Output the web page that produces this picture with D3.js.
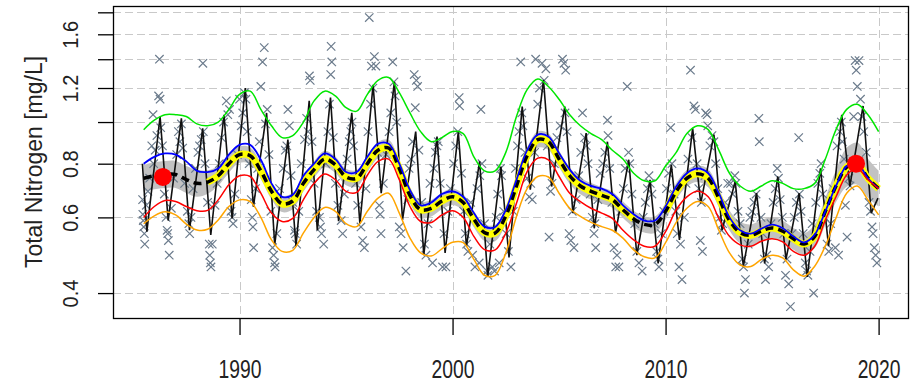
<!DOCTYPE html>
<html>
<head>
<meta charset="utf-8">
<script src="https://cdn.jsdelivr.net/npm/d3@7"></script>
<style>
  html, body { margin: 0; padding: 0; background: #fff; }
  svg { display: block; font-family: "Liberation Sans", Arial, sans-serif; }
</style>
</head>
<body>
<svg id="chart" width="923" height="385"></svg>
<script>
// ---- Axis ticks ----
const xTickYears = [1990, 2000, 2010, 2020];
const yTickValues = [0.4, 0.6, 0.8, 1.0, 1.2, 1.4, 1.6, 1.8];
const yTickLabels = ["0.4", "0.6", "0.8", "", "1.2", "", "1.6", ""];
const yAxisTitle = "Total Nitrogen [mg/L]";

// ---- Smoothed trend curves (half-year steps, mg/L) ----
const trendYears = [1985.5, 1986, 1986.5, 1987, 1987.5, 1988, 1988.5, 1989, 1989.5,
  1990, 1990.5, 1991, 1991.5, 1992, 1992.5, 1993, 1993.5, 1994, 1994.5, 1995, 1995.5,
  1996, 1996.5, 1997, 1997.5, 1998, 1998.5, 1999, 1999.5, 2000, 2000.5, 2001, 2001.5,
  2002, 2002.5, 2003, 2003.5, 2004, 2004.5, 2005, 2005.5, 2006, 2006.5, 2007, 2007.5,
  2008, 2008.5, 2009, 2009.5, 2010, 2010.5, 2011, 2011.5, 2012, 2012.5, 2013, 2013.5,
  2014, 2014.5, 2015, 2015.5, 2016, 2016.5, 2017, 2017.5, 2018, 2018.5, 2019, 2019.5, 2020];

const greenLine = [0.96, 1.01, 1.04, 1.04, 1.03, 0.99, 0.98, 1.00, 1.07,
  1.16, 1.18, 1.07, 0.98, 0.92, 0.93, 1.00, 1.12, 1.18, 1.15, 1.08, 1.06,
  1.16, 1.25, 1.27, 1.17, 1.05, 0.95, 0.90, 0.92, 0.95, 0.94, 0.83, 0.77,
  0.77, 0.85, 1.03, 1.19, 1.26, 1.21, 1.13, 1.04, 0.98, 0.94, 0.91, 0.86,
  0.82, 0.76, 0.73, 0.73, 0.79, 0.85, 0.94, 0.98, 0.96, 0.86, 0.76, 0.71,
  0.69, 0.71, 0.73, 0.72, 0.70, 0.70, 0.72, 0.82, 0.96, 1.07, 1.10, 1.04, 0.95];

const blueLine = [0.80, 0.83, 0.845, 0.84, 0.81, 0.77, 0.765, 0.78, 0.84,
  0.885, 0.885, 0.817, 0.72, 0.67, 0.677, 0.75, 0.80, 0.845, 0.82, 0.765, 0.765,
  0.83, 0.89, 0.89, 0.80, 0.695, 0.64, 0.65, 0.68, 0.69, 0.67, 0.614, 0.571,
  0.57, 0.625, 0.734, 0.86, 0.935, 0.925, 0.846, 0.775, 0.73, 0.71, 0.70, 0.68,
  0.64, 0.61, 0.59, 0.59, 0.636, 0.708, 0.76, 0.78, 0.76, 0.683, 0.60, 0.56,
  0.55, 0.565, 0.577, 0.566, 0.542, 0.525, 0.547, 0.62, 0.71, 0.79, 0.80, 0.74, 0.70];

const trendLine = [0.74, 0.75, 0.755, 0.755, 0.735, 0.72, 0.725, 0.75, 0.80,
  0.84, 0.835, 0.77, 0.69, 0.645, 0.655, 0.72, 0.775, 0.82, 0.795, 0.745, 0.74,
  0.80, 0.86, 0.87, 0.78, 0.675, 0.625, 0.63, 0.655, 0.67, 0.65, 0.595, 0.553,
  0.552, 0.605, 0.71, 0.835, 0.91, 0.90, 0.82, 0.75, 0.71, 0.69, 0.675, 0.66,
  0.625, 0.595, 0.578, 0.577, 0.62, 0.69, 0.74, 0.758, 0.74, 0.665, 0.59, 0.553,
  0.545, 0.558, 0.567, 0.557, 0.535, 0.52, 0.542, 0.62, 0.71, 0.785, 0.80, 0.74, 0.70];

// relative half-width of the shaded confidence band around the trend
const bandSpread = [0.075, 0.075, 0.075, 0.075, 0.075, 0.075, 0.065, 0.055, 0.05,
  0.045, 0.045, 0.045, 0.045, 0.045, 0.045, 0.045, 0.045, 0.045, 0.045, 0.045, 0.045,
  0.045, 0.045, 0.045, 0.045, 0.045, 0.045, 0.045, 0.045, 0.045, 0.045, 0.045, 0.045,
  0.045, 0.045, 0.045, 0.045, 0.045, 0.045, 0.045, 0.045, 0.045, 0.045, 0.045, 0.045,
  0.045, 0.045, 0.045, 0.045, 0.045, 0.045, 0.045, 0.045, 0.05, 0.05, 0.055, 0.06,
  0.06, 0.06, 0.06, 0.06, 0.06, 0.06, 0.065, 0.075, 0.09, 0.11, 0.12, 0.11, 0.10];

const redLine = [0.60, 0.636, 0.657, 0.653, 0.636, 0.622, 0.623, 0.659, 0.715,
  0.75, 0.747, 0.683, 0.614, 0.587, 0.597, 0.66, 0.72, 0.757, 0.734, 0.69, 0.686,
  0.752, 0.81, 0.82, 0.734, 0.636, 0.587, 0.584, 0.608, 0.622, 0.60, 0.542, 0.505,
  0.504, 0.552, 0.647, 0.767, 0.824, 0.817, 0.747, 0.683, 0.653, 0.63, 0.614, 0.597,
  0.56, 0.532, 0.514, 0.514, 0.556, 0.625, 0.67, 0.69, 0.67, 0.597, 0.542, 0.518,
  0.514, 0.528, 0.535, 0.526, 0.50, 0.49, 0.514, 0.592, 0.67, 0.753, 0.78, 0.734, 0.70];

const orangeLine = [0.58, 0.605, 0.618, 0.608, 0.579, 0.561, 0.563, 0.592, 0.636,
  0.659, 0.653, 0.60, 0.532, 0.50, 0.503, 0.552, 0.60, 0.633, 0.62, 0.58, 0.571,
  0.62, 0.665, 0.683, 0.614, 0.537, 0.496, 0.488, 0.507, 0.525, 0.524, 0.479, 0.44,
  0.44, 0.496, 0.603, 0.70, 0.747, 0.745, 0.683, 0.63, 0.603, 0.584, 0.571, 0.56,
  0.537, 0.504, 0.486, 0.483, 0.524, 0.584, 0.63, 0.653, 0.636, 0.56, 0.496, 0.465,
  0.461, 0.479, 0.49, 0.483, 0.453, 0.438, 0.462, 0.515, 0.598, 0.683, 0.71, 0.659, 0.608];

// years in which the yellow highlight is drawn under the dashed trend
const highlightSpans = [[1988.5, 2008.5], [2010.0, 2020.0]];

// ---- Seasonal model: yearly spring peaks and autumn lows (mg/L) ----
const seasonalStart = [1985.44, 0.80];
const seasonalEnd = [2019.97, 0.665];
const peakPhase = 0.27, lowPhase = 0.65;
const peakYears = [1986, 1987, 1988, 1989, 1990, 1991, 1992, 1993, 1994, 1995, 1996,
  1997, 1998, 1999, 2000, 2001, 2002, 2003, 2004, 2005, 2006, 2007, 2008, 2009, 2010,
  2011, 2012, 2013, 2014, 2015, 2016, 2017, 2018, 2019];
const peakValues = [1.03, 1.02, 0.967, 1.04, 1.20, 1.05, 0.91, 1.12, 1.14, 1.05, 1.22,
  1.24, 0.95, 0.925, 0.95, 0.81, 0.788, 1.087, 1.253, 1.087, 0.942, 0.90, 0.817, 0.734, 0.795,
  0.967, 0.935, 0.727, 0.683, 0.747, 0.683, 0.78, 1.04, 1.09];
const lowYears = [1985, 1986, 1987, 1988, 1989, 1990, 1991, 1992, 1993, 1994, 1995, 1996,
  1997, 1998, 1999, 2000, 2001, 2002, 2003, 2004, 2005, 2006, 2007, 2008, 2009, 2010,
  2011, 2012, 2013, 2014, 2015, 2016, 2017, 2018, 2019];
const lowValues = [0.556, 0.59, 0.56, 0.546, 0.597, 0.635, 0.518, 0.514, 0.56, 0.588, 0.58, 0.683,
  0.592, 0.49, 0.496, 0.514, 0.436, 0.484, 0.696, 0.708, 0.614, 0.566, 0.552, 0.49, 0.469, 0.532,
  0.647, 0.56, 0.461, 0.469, 0.479, 0.436, 0.514, 0.708, 0.614];

// ---- Highlighted estimates ----
const markedPoints = [[1986.4, 0.745], [2018.94, 0.80]];

// ---- Observed samples [decimal year, mg/L] ----
const samples = [
  [1985.45,0.66],[1985.46,0.61],[1985.48,0.59],[1985.5,0.57],[1985.53,0.55],[1985.55,0.52],[1985.62,0.64],[1985.7,0.69],[1985.78,0.74],[1985.88,0.88],[1985.94,1.04],[1985.97,0.80],
  [1986.04,0.86],[1986.12,0.93],[1986.2,1.15],[1986.24,1.40],[1986.27,1.13],[1986.3,0.97],[1986.38,0.88],[1986.47,0.68],[1986.55,0.60],[1986.6,0.56],[1986.63,0.55],[1986.66,0.53],[1986.7,0.49],[1986.8,0.63],[1986.9,0.74],
  [1987.05,0.84],[1987.13,0.95],[1987.2,0.90],[1987.27,0.99],[1987.33,0.87],[1987.42,0.72],[1987.55,0.62],[1987.62,0.58],[1987.66,0.55],[1987.72,0.60],[1987.82,0.70],[1987.93,0.78],
  [1988.05,0.85],[1988.12,0.88],[1988.2,0.91],[1988.28,1.37],[1988.3,0.95],[1988.38,0.80],[1988.5,0.65],[1988.58,0.52],[1988.6,0.49],[1988.63,0.47],[1988.66,0.46],[1988.72,0.52],[1988.85,0.64],[1988.95,0.72],
  [1989.05,0.80],[1989.15,0.92],[1989.25,1.00],[1989.38,1.12],[1989.45,1.04],[1989.53,1.07],[1989.6,0.62],[1989.65,0.60],[1989.7,0.58],[1989.78,0.68],[1989.9,0.84],
  [1990.0,1.13],[1990.08,0.98],[1990.15,1.05],[1990.23,1.17],[1990.3,1.13],[1990.36,0.95],[1990.45,0.80],[1990.55,0.66],[1990.6,0.60],[1990.63,0.57],[1990.66,0.51],[1990.75,0.70],[1990.85,0.78],[1990.93,0.90],
  [1991.0,1.21],[1991.08,1.38],[1991.16,1.49],[1991.22,0.99],[1991.3,1.07],[1991.38,0.84],[1991.47,0.62],[1991.55,0.51],[1991.6,0.49],[1991.64,0.47],[1991.67,0.46],[1991.75,0.55],[1991.88,0.70],
  [1992.05,0.78],[1992.15,0.86],[1992.22,0.88],[1992.27,1.07],[1992.34,0.98],[1992.42,0.75],[1992.5,0.65],[1992.58,0.56],[1992.62,0.55],[1992.68,0.52],[1992.78,0.62],[1992.9,0.80],
  [1993.05,0.91],[1993.15,1.02],[1993.22,0.95],[1993.28,1.28],[1993.32,1.25],[1993.4,0.90],[1993.5,0.72],[1993.62,0.62],[1993.75,0.60],[1993.8,0.57],[1993.85,0.55],[1993.95,0.52],
  [1994.05,0.80],[1994.15,0.95],[1994.22,1.10],[1994.28,1.29],[1994.3,1.50],[1994.33,1.38],[1994.4,0.92],[1994.5,0.72],[1994.62,0.64],[1994.77,0.59],[1994.84,0.55],[1994.92,0.68],
  [1995.05,0.82],[1995.15,0.90],[1995.22,0.95],[1995.28,1.00],[1995.35,0.88],[1995.45,0.72],[1995.55,0.64],[1995.7,0.57],[1995.78,0.53],[1995.86,0.51],[1995.93,0.70],
  [1996.03,0.95],[1996.09,1.75],[1996.15,1.10],[1996.19,1.35],[1996.26,1.20],[1996.33,1.42],[1996.4,1.35],[1996.48,0.85],[1996.56,0.64],[1996.6,0.61],[1996.64,0.55],[1996.75,0.72],[1996.88,0.84],
  [1997.02,0.95],[1997.1,1.05],[1997.19,1.38],[1997.25,1.24],[1997.3,1.15],[1997.38,1.00],[1997.5,0.57],[1997.58,0.55],[1997.68,0.51],[1997.81,0.45],[1997.9,0.66],[1997.96,0.78],
  [1998.05,0.82],[1998.12,0.90],[1998.2,1.29],[1998.25,1.08],[1998.3,1.25],[1998.36,1.21],[1998.42,0.86],[1998.55,0.65],[1998.68,0.52],[1998.75,0.49],[1998.85,0.58],[1998.94,0.72],
  [1999.06,0.47],[1999.12,0.78],[1999.2,0.85],[1999.27,0.88],[1999.33,0.90],[1999.42,0.72],[1999.53,0.46],[1999.6,0.55],[1999.69,0.46],[1999.78,0.62],[1999.9,0.70],
  [2000.05,0.80],[2000.15,0.88],[2000.25,0.95],[2000.31,1.14],[2000.33,1.09],[2000.42,0.76],[2000.52,0.62],[2000.6,0.55],[2000.66,0.52],[2000.72,0.50],[2000.85,0.65],
  [2000.94,0.49],[2001.05,0.46],[2001.15,0.70],[2001.25,0.47],[2001.28,0.75],[2001.33,1.07],[2001.38,0.80],[2001.5,0.58],[2001.62,0.45],[2001.66,0.44],[2001.75,0.52],[2001.87,0.46],
  [2001.97,0.45],[2002.05,0.60],[2002.12,0.68],[2002.19,0.47],[2002.25,0.78],[2002.3,0.75],[2002.4,0.62],[2002.52,0.55],[2002.62,0.50],[2002.74,0.46],[2002.85,0.62],[2002.95,0.78],
  [2003.05,0.88],[2003.12,0.95],[2003.2,1.38],[2003.25,1.05],[2003.3,0.98],[2003.4,0.85],[2003.5,0.74],[2003.6,0.67],[2003.67,0.72],[2003.74,0.66],[2003.85,0.85],[2003.9,1.40],
  [2004.0,1.10],[2004.08,1.20],[2004.2,1.37],[2004.3,1.25],[2004.38,1.33],[2004.45,0.88],[2004.53,0.54],[2004.6,0.69],[2004.67,0.72],[2004.78,0.80],[2004.9,0.92],
  [2005.05,0.98],[2005.16,1.40],[2005.23,1.37],[2005.28,1.05],[2005.31,1.32],[2005.38,0.95],[2005.47,0.55],[2005.55,0.53],[2005.62,0.62],[2005.7,0.51],[2005.8,0.66],[2005.92,0.75],
  [2006.02,0.85],[2006.1,1.05],[2006.2,0.92],[2006.28,0.88],[2006.36,0.80],[2006.46,0.68],[2006.56,0.60],[2006.64,0.55],[2006.68,0.58],[2006.72,0.51],[2006.82,0.66],[2006.93,0.76],
  [2007.05,0.80],[2007.15,0.85],[2007.27,1.01],[2007.3,0.93],[2007.38,0.78],[2007.48,0.65],[2007.58,0.51],[2007.66,0.46],[2007.72,0.49],[2007.81,0.46],[2007.9,0.62],
  [2008.02,0.70],[2008.1,0.78],[2008.2,1.21],[2008.26,0.85],[2008.32,0.80],[2008.42,0.68],[2008.55,0.58],[2008.65,0.50],[2008.75,0.47],[2008.9,0.45],[2008.95,0.60],
  [2009.05,0.65],[2009.15,0.70],[2009.22,0.75],[2009.28,0.72],[2009.36,0.68],[2009.47,0.58],[2009.58,0.50],[2009.64,0.48],[2009.69,0.46],[2009.8,0.55],[2009.92,0.62],
  [2010.04,0.70],[2010.14,0.76],[2010.24,0.97],[2010.3,0.80],[2010.4,0.68],[2010.48,0.62],[2010.55,0.55],[2010.63,0.46],[2010.7,0.52],[2010.77,0.43],[2010.88,0.60],[2010.96,0.72],
  [2011.05,0.82],[2011.17,1.32],[2011.24,0.92],[2011.33,1.09],[2011.4,1.07],[2011.48,0.80],[2011.56,0.70],[2011.63,0.53],[2011.68,0.65],[2011.73,0.50],[2011.85,0.75],[2011.88,1.05],
  [2011.95,1.04],[2011.98,0.98],[2012.08,0.88],[2012.18,0.93],[2012.27,0.90],[2012.35,0.80],[2012.45,0.70],[2012.55,0.60],[2012.62,0.56],[2012.68,0.58],[2012.8,0.65],[2012.92,0.72],
  [2013.05,0.72],[2013.15,0.68],[2013.25,0.75],[2013.3,0.72],[2013.4,0.62],[2013.5,0.58],[2013.6,0.48],[2013.66,0.46],[2013.7,0.40],[2013.75,0.43],[2013.88,0.52],[2013.96,0.60],
  [2014.05,0.62],[2014.15,0.65],[2014.25,0.68],[2014.38,1.02],[2014.4,0.90],[2014.48,0.60],[2014.56,0.55],[2014.64,0.48],[2014.69,0.43],[2014.75,0.49],[2014.84,0.46],[2014.95,0.58],
  [2015.05,0.65],[2015.15,0.70],[2015.24,0.78],[2015.3,0.74],[2015.38,0.66],[2015.48,0.60],[2015.55,0.55],[2015.63,0.44],[2015.7,0.48],[2015.78,0.42],[2015.86,0.372],[2015.94,0.55],
  [2016.04,0.60],[2016.14,0.65],[2016.25,0.92],[2016.28,0.68],[2016.36,0.62],[2016.46,0.55],[2016.56,0.47],[2016.62,0.45],[2016.68,0.44],[2016.78,0.50],[2016.88,0.58],[2016.95,0.40],
  [2017.05,0.65],[2017.15,0.72],[2017.24,0.76],[2017.3,0.80],[2017.38,0.68],[2017.48,0.60],[2017.58,0.52],[2017.66,0.50],[2017.75,0.58],[2017.86,0.70],[2017.97,0.51],
  [2018.05,0.88],[2018.12,0.49],[2018.18,0.95],[2018.25,1.00],[2018.3,0.90],[2018.38,0.82],[2018.44,0.64],[2018.52,0.54],[2018.6,0.74],[2018.66,0.71],[2018.75,0.80],[2018.83,1.03],
  [2018.9,1.39],[2018.95,1.32],[2019.0,1.21],[2019.08,1.39],[2019.15,1.13],[2019.22,1.03],[2019.3,0.95],[2019.42,0.85],[2019.55,0.65],[2019.62,0.62],[2019.69,0.57],[2019.74,0.55],[2019.8,0.51],[2019.86,0.49],[2019.92,0.47]
];

// ---- Layout ----
const plot = { left: 113, right: 908, top: 6, bottom: 318 };
const svg = d3.select("#chart");

const x = d3.scaleLinear().domain([1984.06, 2021.38]).range([plot.left, plot.right]);
const y = d3.scaleLog().domain([0.35, 1.862]).range([plot.bottom, plot.top]);

svg.append("defs").append("clipPath").attr("id", "plotClip")
  .append("rect")
  .attr("x", plot.left).attr("y", plot.top)
  .attr("width", plot.right - plot.left).attr("height", plot.bottom - plot.top);

// grid
const grid = svg.append("g").attr("stroke", "#c9c9c9").attr("stroke-width", 1)
  .attr("stroke-dasharray", "8,4");
grid.selectAll("line.h").data(yTickValues).join("line").attr("class", "h")
  .attr("x1", plot.left).attr("x2", plot.right)
  .attr("y1", d => Math.round(y(d)) + 0.5).attr("y2", d => Math.round(y(d)) + 0.5);
grid.selectAll("line.v").data(xTickYears).join("line").attr("class", "v")
  .attr("y1", plot.top).attr("y2", plot.bottom)
  .attr("x1", d => Math.round(x(d)) + 0.5).attr("x2", d => Math.round(x(d)) + 0.5);

const body = svg.append("g").attr("clip-path", "url(#plotClip)");

const trendRows = trendYears.map((t, i) => ({
  t, green: greenLine[i], blue: blueLine[i], trend: trendLine[i],
  red: redLine[i], orange: orangeLine[i], spread: bandSpread[i]
}));

const smooth = d3.curveCatmullRom.alpha(0.5);

// confidence band
body.append("path")
  .datum(trendRows)
  .attr("fill", "#c2c2c2")
  .attr("d", d3.area()
    .x(d => x(d.t))
    .y0(d => y(d.trend / (1 + d.spread)))
    .y1(d => y(d.trend * (1 + d.spread)))
    .curve(smooth));

// observed samples as crosses
const cross = "M-4.2,-4.2L4.2,4.2M-4.2,4.2L4.2,-4.2";
body.append("g")
  .attr("stroke", "#6b7b8c").attr("stroke-width", 1.2).attr("fill", "none")
  .selectAll("path").data(samples).join("path")
  .attr("transform", d => `translate(${x(d[0])},${y(d[1])})`)
  .attr("d", cross);

// seasonal model zig-zag
const seasonal = [seasonalStart];
lowYears.forEach((yr, i) => {
  seasonal.push([yr + lowPhase, lowValues[i]]);
  const pi = peakYears.indexOf(yr + 1);
  if (pi >= 0) seasonal.push([yr + 1 + peakPhase, peakValues[pi]]);
});
seasonal.push(seasonalEnd);

body.append("path")
  .datum(seasonal)
  .attr("fill", "none").attr("stroke", "#111").attr("stroke-width", 1.6)
  .attr("stroke-linejoin", "miter")
  .attr("d", d3.line().x(d => x(d[0])).y(d => y(d[1])));

const lineOf = key => d3.line()
  .x(d => x(d.t)).y(d => y(d[key])).curve(smooth);

// yellow highlight under the trend
const inSpan = t => highlightSpans.some(s => t >= s[0] && t <= s[1]);
body.append("path")
  .datum(trendRows)
  .attr("fill", "none").attr("stroke", "#ffff00").attr("stroke-width", 7)
  .attr("d", lineOf("trend").defined(d => inSpan(d.t)));

// dashed trend
body.append("path")
  .datum(trendRows)
  .attr("fill", "none").attr("stroke", "#000").attr("stroke-width", 3.5)
  .attr("stroke-dasharray", "8,5")
  .attr("d", lineOf("trend"));

// envelope curves
[["green", "#00e600"], ["blue", "#0000ff"], ["red", "#ff0000"], ["orange", "#ffa500"]]
  .forEach(([key, color]) => {
    body.append("path")
      .datum(trendRows)
      .attr("fill", "none").attr("stroke", color)
      .attr("stroke-width", key === "blue" ? 1.8 : 1.5)
      .attr("d", lineOf(key));
  });

// highlighted estimates
body.append("g").selectAll("circle").data(markedPoints).join("circle")
  .attr("cx", d => x(d[0])).attr("cy", d => y(d[1])).attr("r", 9)
  .attr("fill", "#ff0000");

// plot frame
svg.append("rect")
  .attr("x", plot.left + 0.5).attr("y", plot.top + 0.5)
  .attr("width", plot.right - plot.left).attr("height", plot.bottom - plot.top)
  .attr("fill", "none").attr("stroke", "#000").attr("stroke-width", 1.3);

// x axis
const xAxis = svg.append("g")
  .attr("transform", `translate(0,${plot.bottom})`)
  .call(d3.axisBottom(x).tickValues(xTickYears).tickSize(17).tickFormat(d3.format("d")));
xAxis.select(".domain").remove();
xAxis.selectAll(".tick line").attr("stroke", "#000").attr("stroke-width", 1.3);
xAxis.selectAll(".tick text")
  .attr("y", null).attr("dy", null)
  .attr("transform", "translate(0,60) scale(1,1.3)")
  .attr("font-size", 19.3).attr("fill", "#222")
  .attr("font-family", "'Liberation Sans', Arial, sans-serif");

// y axis
const yAxis = svg.append("g")
  .attr("transform", `translate(${plot.left},0)`)
  .call(d3.axisLeft(y).tickValues(yTickValues).tickSize(15)
    .tickFormat((d, i) => yTickLabels[i]));
yAxis.select(".domain").remove();
yAxis.selectAll(".tick line").attr("stroke", "#000").attr("stroke-width", 1.3);
yAxis.selectAll(".tick text")
  .attr("x", null).attr("dy", null)
  .attr("text-anchor", "middle")
  .attr("transform", `translate(${78 - plot.left},0) rotate(-90) scale(1,1.1)`)
  .attr("font-size", 20).attr("fill", "#222")
  .attr("font-family", "'Liberation Sans', Arial, sans-serif");

// y axis title
svg.append("text")
  .attr("transform", `translate(42,${(plot.top + plot.bottom) / 2}) rotate(-90)`)
  .attr("text-anchor", "middle")
  .attr("font-size", 23).attr("fill", "#222")
  .text(yAxisTitle);
</script>
</body>
</html>
